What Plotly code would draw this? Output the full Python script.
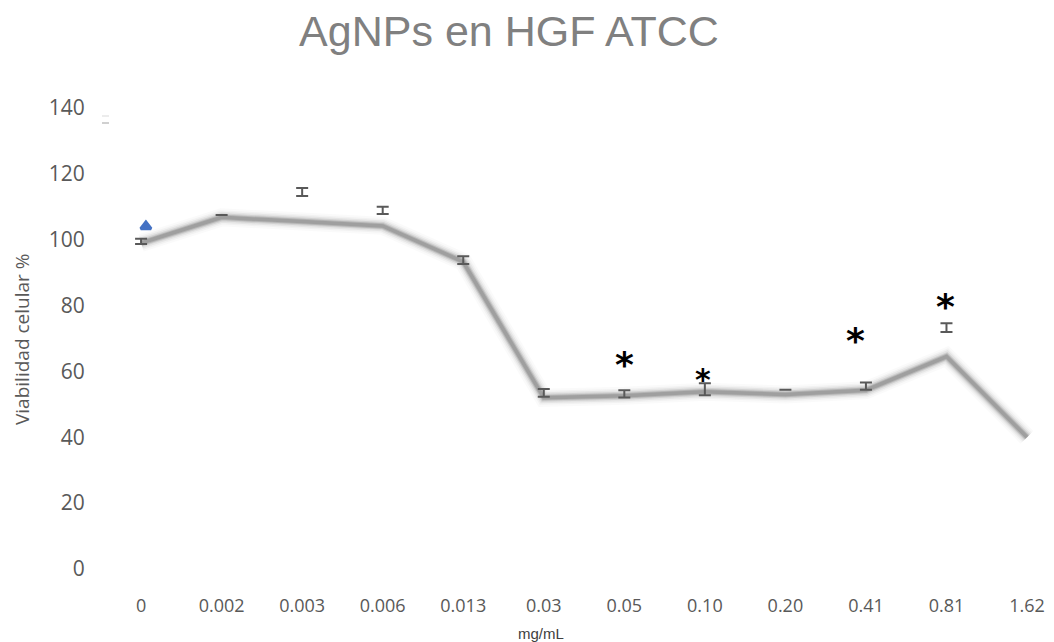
import plotly.graph_objects as go

# Concentrations (mg/mL) shown as categories on the x axis
concentrations = ["0", "0.002", "0.003", "0.006", "0.013", "0.03",
                  "0.05", "0.10", "0.20", "0.41", "0.81", "1.62"]

# Smoothed viability trend (%)
trend_values = [99.0, 106.8, 105.5, 104.2, 93.3, 52.0, 52.6, 53.8, 53.0, 54.3, 64.5, 40.0]

# Mean viability (%) with standard deviation, per concentration (no replicate data at 1.62)
mean_values = [99.5, 107.5, 114.5, 108.9, 93.8, 53.5, 53.2, 54.6, 54.4, 55.5, 73.3]
sd_values = [0.8, 0.0, 1.2, 1.1, 1.2, 1.2, 1.1, 1.8, 0.0, 1.1, 1.3]

# Significance marks: category, height (%), size, horizontal nudge (px)
sig_cats = ["0.05", "0.10", "0.41", "0.81"]
sig_heights = [62.0, 57.6, 69.4, 79.8]
sig_sizes = [36, 30, 36, 36]
sig_shift = [0, -2, -10, -1]

# Single highlighted reading at the control
control_x = [0.06]
control_y = [104.0]

x_idx = list(range(len(concentrations)))
cat_pos = {c: i for i, c in enumerate(concentrations)}

fig = go.Figure()

# Soft, blurred-looking trend line built from stacked translucent strokes
for w, a in [(18, 0.04), (14, 0.07), (11, 0.12), (8, 0.22), (5.5, 0.40), (3.5, 0.55)]:
    fig.add_trace(go.Scatter(
        x=x_idx, y=trend_values, mode="lines",
        line=dict(color=f"rgba(140,140,140,{a})", width=w, shape="linear"),
        hoverinfo="skip", showlegend=False,
    ))

# Error bars around the mean values
fig.add_trace(go.Scatter(
    x=x_idx[:len(mean_values)], y=mean_values, mode="markers",
    marker=dict(size=1, color="rgba(0,0,0,0)"),
    error_y=dict(type="data", array=sd_values, visible=True,
                 color="#595959", thickness=2, width=6),
    showlegend=False,
))

# Control marker
fig.add_trace(go.Scatter(
    x=control_x, y=control_y, mode="markers",
    marker=dict(symbol="triangle-up", size=9, color="#4472C4",
                line=dict(color="#4472C4", width=3)),
    showlegend=False,
))

# Significance asterisks
for c, h, s, dx in zip(sig_cats, sig_heights, sig_sizes, sig_shift):
    fig.add_annotation(x=cat_pos[c], y=h, text="<b>*</b>", showarrow=False,
                       font=dict(family="DejaVu Sans", size=s, color="#000000"),
                       xanchor="center", yanchor="middle", xshift=dx)

fig.update_layout(
    width=1054, height=642,
    margin=dict(l=100, r=0, t=108, b=73),
    paper_bgcolor="white", plot_bgcolor="white",
    title=dict(text="AgNPs en HGF ATCC", x=509 / 1054, xanchor="center",
               y=1 - 31 / 642, yanchor="middle",
               font=dict(family="Liberation Sans", size=43, color="#808080")),
    font=dict(family="Open Sans", color="#595959"),
)

fig.update_xaxes(
    range=[-0.51, 11.335], tickmode="array", tickvals=x_idx, ticktext=concentrations,
    showgrid=False, zeroline=False, showline=False,
    ticks="outside", ticklen=20, tickcolor="rgba(0,0,0,0)",
    tickfont=dict(family="Open Sans", size=18, color="#595959"),
)
fig.update_yaxes(
    range=[0, 140], tickvals=[0, 20, 40, 60, 80, 100, 120, 140],
    showgrid=False, zeroline=False, showline=False,
    ticks="outside", ticklen=10, tickcolor="rgba(0,0,0,0)",
    tickfont=dict(family="Open Sans", size=21, color="#595959"),
)

# Axis titles
fig.add_annotation(xref="paper", yref="paper", x=(541 - 100) / 954, y=-64 / 461,
                   text="mg/mL", showarrow=False, yanchor="middle",
                   font=dict(family="Liberation Sans", size=15, color="#404040"))
fig.add_annotation(xref="paper", yref="paper", x=-78 / 954, y=(569 - 340) / 461,
                   text="Viabilidad celular %", textangle=-90, showarrow=False,
                   xanchor="center", yanchor="middle",
                   font=dict(family="Open Sans", size=19, color="#595959"))

# Faint legend remnant near the top-left
fig.add_shape(type="line", xref="paper", yref="paper",
              x0=2 / 954, x1=9 / 954, y0=(569 - 116) / 461, y1=(569 - 116) / 461,
              line=dict(color="#e6e6e6", width=1.5))
fig.add_shape(type="line", xref="paper", yref="paper",
              x0=2 / 954, x1=9 / 954, y0=(569 - 123) / 461, y1=(569 - 123) / 461,
              line=dict(color="#d0d0d0", width=2))

fig.write_html("out.html")
